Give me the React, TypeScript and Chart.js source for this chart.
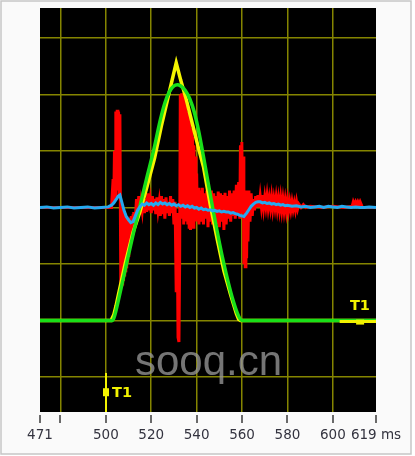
import React, { useEffect, useRef } from "react";
import { Chart, registerables } from "chart.js";
Chart.register(...registerables);

// ---- axis data ----
const xMin = 471;
const xMax = 619;
const yMin = -0.62;
const yMax = 6.53;
const xTicks = [471, 480, 500, 520, 540, 560, 580, 600, 619];
const xTickLabels = ["471", "", "500", "520", "540", "560", "580", "600", "619 ms"];
const yGrid = [0, 1, 2, 3, 4, 5, 6];

// ---- series: green ----
const greenMs = [471, 503, 504, 505.5, 508.8, 512, 515, 518, 521, 524, 526, 528, 530, 531.5, 533, 535, 537, 539, 541, 543, 545, 547.4, 550, 552, 554, 556, 558, 559.5, 560.5, 619];
const greenVal = [1.0, 1.0, 1.1, 1.35, 1.95, 2.52, 3.02, 3.52, 4.0, 4.55, 4.85, 5.05, 5.15, 5.17, 5.15, 5.07, 4.92, 4.68, 4.33, 3.9, 3.45, 2.92, 2.38, 2.0, 1.66, 1.36, 1.12, 1.01, 1.0, 1.0];

// ---- series: yellow ----
const yellowMs = [471, 502.3, 503.5, 504.5, 505.5, 508.5, 512, 515, 518, 521.5, 524.5, 527, 529, 531, 533, 535.5, 538, 540.5, 543, 546, 549, 552, 555, 557.5, 558.5, 559.3, 619];
const yellowVal = [1.0, 1.0, 1.1, 1.26, 1.45, 2.0, 2.56, 2.92, 3.35, 3.88, 4.45, 4.88, 5.22, 5.56, 5.25, 4.9, 4.5, 4.1, 3.72, 3.05, 2.45, 1.88, 1.45, 1.12, 1.02, 1.0, 1.0];

// ---- series: red ----
const redMs = [
  471, 490, 502.5, 503.2, 503.5, 503.8, 504.1, 504.4, 504.7, 505.0, 505.3, 505.6, 505.9, 506.2, 506.4, 506.6,
  506.8, 507.0, 507.2, 507.4, 507.6, 507.8, 508.0, 508.2, 508.4, 508.6, 508.8, 509.0, 509.2, 509.4, 509.6, 509.8,
  510.0, 510.2, 510.4, 510.6, 510.8, 511.0, 511.2, 511.4, 511.6, 511.8, 512.0, 512.2, 512.4, 512.6,
  513.0, 513.5, 514.0, 514.5, 515.0, 515.5, 516.0, 516.5, 517.0, 517.5, 518.0, 518.5, 519.0,
  519.5, 520.0, 520.5, 521.0, 521.5, 522.0, 522.5, 523.0, 523.5, 524.0, 524.5, 525.0, 525.5, 526.0, 526.5, 527.0,
  527.5, 528.0, 528.5, 529.0, 529.5, 530.0, 530.5, 531.0, 531.4, 531.8, 532.2, 532.5, 532.8, 533.1, 533.4, 533.7,
  534.0, 534.3, 534.6, 534.9, 535.2, 535.5, 535.8, 536.1, 536.4, 536.7, 537.0, 537.3, 537.6, 537.9, 538.2, 538.5,
  538.8, 539.1, 539.4, 539.7, 540.0, 540.3, 540.6, 541.0, 541.5, 542.0, 542.5, 543.0, 543.5, 544.0, 544.5, 545.0,
  545.5, 546.0, 546.5, 547.0, 547.5, 548.0, 548.5, 549.0, 549.5, 550.0, 550.5, 551.0, 551.5, 552.0, 552.5, 553.0,
  553.5, 554.0, 554.5, 555.0, 555.5, 556.0, 556.5, 557.0, 557.5, 558.0, 558.5, 559.0, 559.3, 559.6, 559.9, 560.2,
  560.5, 560.8, 561.1, 561.4, 561.7, 562.0, 562.3, 562.6, 563.0, 563.5, 564.0, 564.5, 565.0, 565.5, 566.0, 566.5,
  567.0, 567.5, 568.0, 568.5, 569.0, 569.5, 570.0, 570.5, 571.0, 571.5, 572.0, 572.5, 573.0, 573.5, 574.0, 574.5,
  575.0, 575.5, 576.0, 576.5, 577.0, 577.5, 578.0, 578.5, 579.0, 579.5, 580.0, 580.5, 581.0, 581.5, 582.0, 582.5,
  583.0, 583.5, 584.0, 584.5, 585.0, 586.0, 587.0, 588.0, 590.0, 595.0, 600.0, 605.0, 608.5, 609.0, 609.5, 610.0,
  610.5, 611.0, 611.5, 612.0, 612.5, 613.0, 619.0
];
const redVal = [
  3.0, 3.0, 3.0, 3.5, 3.1, 4.0, 3.2, 4.7, 3.3, 4.73, 3.4, 4.7, 3.2, 4.65, 3.0, 1.6,
  3.0, 1.6, 2.95, 1.62, 2.95, 1.7, 2.9, 1.78, 2.9, 1.88, 2.85, 1.95, 2.85, 2.05, 2.8, 2.15,
  2.8, 2.25, 2.8, 2.35, 2.82, 2.42, 2.85, 2.5, 2.85, 2.58, 2.88, 2.65, 2.92, 2.75,
  2.8, 3.15, 2.9, 3.2, 2.9, 3.1, 2.95, 3.22, 2.9, 3.15, 2.92, 3.25, 2.95,
  3.12, 2.9, 3.2, 2.95, 3.15, 2.88, 3.18, 2.95, 3.1, 2.85, 3.2, 2.88, 3.15, 2.8, 3.18, 2.9,
  3.1, 2.85, 3.2, 2.9, 3.15, 2.7, 3.1, 1.5, 2.9, 0.7, 0.62, 2.0, 5.0, 2.8, 5.02, 2.9,
  4.98, 2.7, 4.9, 2.8, 4.82, 2.75, 4.7, 2.7, 4.65, 2.65, 4.55, 2.6, 4.4, 2.7, 4.25, 2.65,
  4.1, 2.8, 3.9, 2.75, 3.6, 2.8, 3.35, 2.7, 3.3, 2.75, 3.35, 2.7, 3.25, 2.8, 3.3, 2.65,
  3.2, 2.75, 3.3, 2.7, 3.25, 2.8, 3.2, 2.7, 3.28, 2.65, 3.25, 2.75, 3.22, 2.6, 3.26, 2.7,
  3.2, 2.8, 3.3, 2.75, 3.25, 2.85, 3.3, 2.8, 3.4, 2.9, 3.45, 2.8, 4.1, 3.0, 4.16, 2.9,
  3.9, 2.0, 3.2, 1.95, 3.3, 2.1, 3.25, 2.4, 3.3, 2.75, 3.25, 2.85, 3.15, 2.95, 3.2, 3.0,
  3.22, 3.0, 3.2, 3.02, 3.22, 3.0, 3.18, 3.02, 3.2, 3.0, 3.16, 3.0, 3.18, 2.98, 3.15, 3.0,
  3.17, 2.98, 3.15, 2.97, 3.16, 2.96, 3.14, 2.95, 3.12, 2.94, 3.12, 2.95, 3.1, 2.96, 3.1, 2.97,
  3.08, 2.96, 3.1, 2.98, 3.06, 3.0, 3.05, 3.0, 3.02, 3.0, 3.02, 3.0, 3.02, 3.1, 3.05, 3.1,
  3.05, 3.1, 3.05, 3.1, 3.05, 3.0, 3.0
];

// ---- series: cyan ----
const cyanMs = [
  471, 474, 477, 480, 483, 486, 489, 492, 495, 498, 501, 502.5, 503.5, 504.5, 505.5, 506.2,
  507, 508, 509, 510, 511, 512, 513, 514, 515, 516, 517, 518, 519, 520, 521, 522,
  523, 524, 525, 526, 527, 528, 529, 530, 531, 532, 533, 534, 535, 536, 537, 538,
  539, 540, 541, 542, 543, 544, 545, 546, 547, 548, 549, 550, 551, 552, 553, 554,
  555, 556, 557, 558, 559, 560, 560.8, 562, 563, 564, 565, 566, 567, 568, 569, 570,
  571, 572, 573, 574, 575, 576, 577, 578, 579, 580, 582, 584, 586, 588, 590, 592,
  594, 596, 598, 600, 602, 604, 606, 608, 610, 612, 614, 616, 619
];
const cyanVal = [
  3.0, 3.01, 2.99, 3.0, 3.01, 2.99, 3.0, 3.01, 2.99, 3.0, 3.01, 3.04, 3.08, 3.14, 3.2, 3.22,
  3.1, 2.95, 2.84, 2.78, 2.73, 2.75, 2.85, 2.95, 3.01, 3.06, 3.04, 3.08, 3.05, 3.07, 3.04, 3.08,
  3.05, 3.09, 3.06, 3.08, 3.05, 3.07, 3.04, 3.06, 3.03, 3.05, 3.02, 3.04, 3.01, 3.03, 3.0, 3.02,
  2.99, 3.0, 2.97, 2.99, 2.96, 2.97, 2.95, 2.96, 2.94, 2.95, 2.93, 2.94, 2.92, 2.93, 2.92, 2.92,
  2.9, 2.91, 2.89, 2.88, 2.86, 2.85, 2.84, 2.9, 2.96, 3.02, 3.06, 3.09, 3.1, 3.1, 3.08, 3.09,
  3.07, 3.08, 3.06, 3.07, 3.05, 3.06, 3.04, 3.05, 3.03, 3.04, 3.02, 3.03, 3.01, 3.02, 3.0, 3.01,
  3.02, 3.0, 3.02, 3.01, 3.0, 3.02, 3.01, 3.0, 3.01, 3.0, 3.0, 3.01, 3.0
];

// ---- cursor markers (T1) ----
const cursorA = { ms: 500, top: 0.07, square: -0.27 };
const cursorB = { from: 603, to: 619, level: 0.98, square: 612, labelMs: 611.9, labelLevel: 1.25 };

const pts = (xs: number[], ys: number[]) => xs.map((x, i) => ({ x, y: ys[i] }));

const decor = {
  id: "decor",
  beforeDraw(chart: any) {
    const { ctx, chartArea: a, width, height } = chart;
    ctx.save();
    ctx.fillStyle = "#ffffff";
    ctx.fillRect(0, 0, width, height);
    ctx.fillStyle = "#fafafa";
    ctx.fillRect(1, 1, 410, 453);
    ctx.strokeStyle = "#c6c6c6";
    ctx.lineWidth = 1.5;
    ctx.strokeRect(1, 1, 410, 453);
    ctx.fillStyle = "#000000";
    ctx.fillRect(a.left, a.top, a.right - a.left, a.bottom - a.top);
    ctx.restore();
  },
  afterDatasetsDraw(chart: any) {
    const { ctx, chartArea: a } = chart;
    const xs = chart.scales.x;
    const ys = chart.scales.y;
    ctx.save();
    ctx.beginPath();
    ctx.rect(a.left, a.top, a.right - a.left, a.bottom - a.top);
    ctx.clip();
    const yellow = "#f2f200";
    // cursor A
    const ax = Math.round(xs.getPixelForValue(cursorA.ms));
    ctx.strokeStyle = yellow;
    ctx.lineWidth = 2;
    ctx.beginPath();
    ctx.moveTo(ax, ys.getPixelForValue(cursorA.top));
    ctx.lineTo(ax, a.bottom);
    ctx.stroke();
    ctx.fillStyle = yellow;
    const asq = ys.getPixelForValue(cursorA.square);
    ctx.fillRect(ax - 3, asq - 4, 6, 8);
    ctx.font = "bold 14.5px 'DejaVu Sans'";
    ctx.textBaseline = "middle";
    ctx.textAlign = "left";
    ctx.fillText("T1", ax + 6, asq + 1);
    // cursor B
    const by = ys.getPixelForValue(cursorB.level);
    ctx.lineWidth = 3;
    ctx.beginPath();
    ctx.moveTo(xs.getPixelForValue(cursorB.from), by);
    ctx.lineTo(xs.getPixelForValue(cursorB.to), by);
    ctx.stroke();
    const bsx = xs.getPixelForValue(cursorB.square);
    ctx.fillRect(bsx - 4, by - 2, 8, 5);
    ctx.textAlign = "center";
    ctx.fillText("T1", xs.getPixelForValue(cursorB.labelMs), ys.getPixelForValue(cursorB.labelLevel));
    ctx.restore();
  },
  afterDraw(chart: any) {
    const { ctx, chartArea: a } = chart;
    const xs = chart.scales.x;
    ctx.save();
    // tick marks
    ctx.strokeStyle = "#3a3a3a";
    ctx.lineWidth = 1.5;
    for (const v of xTicks) {
      const px = Math.round(xs.getPixelForValue(v));
      ctx.beginPath();
      ctx.moveTo(px, a.bottom + 3);
      ctx.lineTo(px, a.bottom + 11);
      ctx.stroke();
    }
    // watermark
    ctx.beginPath();
    ctx.rect(a.left, a.top, a.right - a.left, a.bottom - a.top);
    ctx.clip();
    ctx.font = "42px 'Liberation Sans'";
    ctx.fillStyle = "rgba(150,150,150,0.78)";
    ctx.textAlign = "left";
    ctx.textBaseline = "alphabetic";
    ctx.fillText("sooq.cn", 135, 375);
    ctx.restore();
  },
};

export default function App() {
  const ref = useRef<HTMLCanvasElement | null>(null);
  useEffect(() => {
    if (!ref.current) return;
    const chart = new Chart(ref.current, {
      type: "line",
      data: {
        datasets: [
          { label: "cyan", order: 1, data: pts(cyanMs, cyanVal), borderColor: "#25aaf0", borderWidth: 3, pointRadius: 0, tension: 0 },
          { label: "green", order: 2, data: pts(greenMs, greenVal), borderColor: "#19e019", borderWidth: 3.5, pointRadius: 0, cubicInterpolationMode: "monotone" },
          { label: "yellow", order: 3, data: pts(yellowMs, yellowVal), borderColor: "#f5f500", borderWidth: 3.5, pointRadius: 0, tension: 0 },
          { label: "red", order: 4, data: pts(redMs, redVal), borderColor: "#ff0000", borderWidth: 3, pointRadius: 0, tension: 0 },
        ],
      },
      options: {
        responsive: false,
        animation: false,
        events: [],
        layout: { padding: { left: 40, right: 39, top: 8, bottom: 0 } },
        plugins: { legend: { display: false }, tooltip: { enabled: false } },
        scales: {
          x: {
            type: "linear",
            min: xMin,
            max: xMax,
            afterBuildTicks: (s: any) => {
              s.ticks = xTicks.map((v) => ({ value: v }));
            },
            afterFit: (s: any) => {
              s.height = 44;
              s.paddingLeft = 0;
              s.paddingRight = 0;
            },
            ticks: {
              autoSkip: false,
              maxRotation: 0,
              minRotation: 0,
              padding: 15,
              color: "#33333f",
              font: { family: "'DejaVu Sans'", size: 13.5 },
              callback: (v: any) => {
                const i = xTicks.indexOf(Number(v));
                return i >= 0 ? xTickLabels[i] : "";
              },
            },
            grid: {
              drawTicks: false,
              color: (c: any) => (c.tick && (c.tick.value === xMin || c.tick.value === xMax) ? "rgba(0,0,0,0)" : "#858500"),
              lineWidth: 1.5,
            },
            border: { display: false },
          },
          y: {
            type: "linear",
            min: yMin,
            max: yMax,
            afterBuildTicks: (s: any) => {
              s.ticks = yGrid.map((v) => ({ value: v }));
            },
            afterFit: (s: any) => {
              s.width = 0;
            },
            ticks: { display: false },
            grid: { drawTicks: false, color: "#858500", lineWidth: 1.5 },
            border: { display: false },
          },
        },
      },
      plugins: [decor],
    } as any);
    return () => chart.destroy();
  }, []);
  return (
    <div style={{ position: "fixed", left: 0, top: 0, width: 415, height: 456 }}>
      <canvas ref={ref} width={415} height={456} />
    </div>
  );
}
